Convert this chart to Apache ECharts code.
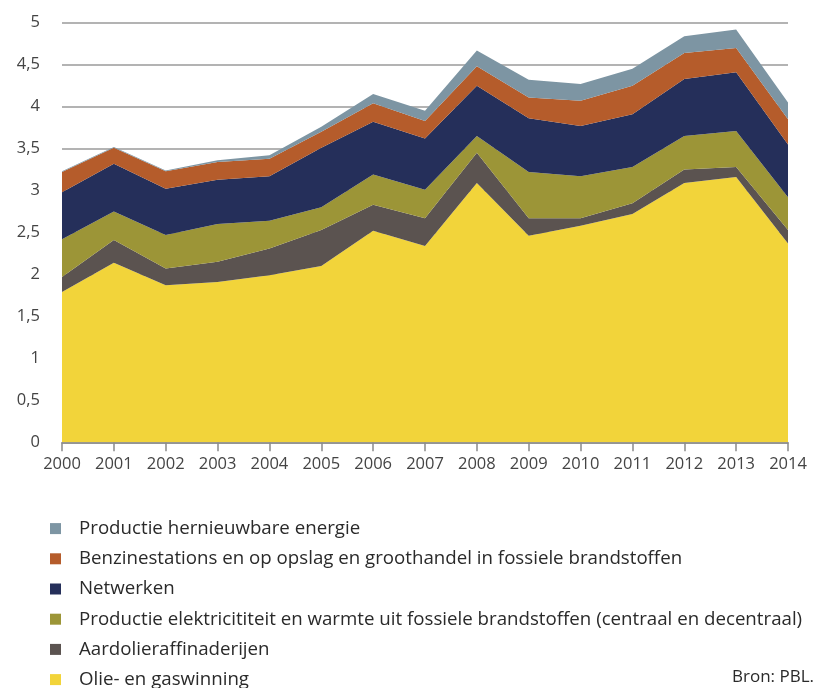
<!DOCTYPE html>
<html><head><meta charset="utf-8">
<script src="https://cdn.jsdelivr.net/npm/echarts@6/dist/echarts.min.js"></script>
<style>html,body{margin:0;padding:0;background:#fff}#c{width:816px;height:688px}</style>
</head><body><div id="c"></div>
<script>
const years = ['2000','2001','2002','2003','2004','2005','2006','2007','2008','2009','2010','2011','2012','2013','2014'];
const olieGas     = [1.79,2.14,1.87,1.91,1.99,2.10,2.52,2.34,3.09,2.46,2.58,2.72,3.09,3.16,2.37];
const raffinage   = [0.18,0.27,0.20,0.24,0.32,0.43,0.31,0.33,0.36,0.21,0.09,0.13,0.16,0.12,0.16];
const elektrisch  = [0.45,0.34,0.40,0.45,0.33,0.27,0.36,0.34,0.20,0.55,0.50,0.43,0.40,0.43,0.39];
const netwerken   = [0.56,0.57,0.55,0.53,0.53,0.71,0.63,0.61,0.60,0.64,0.60,0.63,0.68,0.70,0.63];
const benzine     = [0.24,0.19,0.21,0.21,0.21,0.19,0.22,0.21,0.23,0.25,0.30,0.34,0.31,0.29,0.30];
const hernieuwbaar= [0.01,0.01,0.01,0.02,0.04,0.06,0.11,0.12,0.19,0.21,0.20,0.20,0.20,0.22,0.20];
const yTicks = [0,0.5,1,1.5,2,2.5,3,3.5,4,4.5,5];

const names = ['Olie- en gaswinning','Aardolieraffinaderijen','Productie elektricititeit en warmte uit fossiele brandstoffen (centraal en decentraal)','Netwerken','Benzinestations en op opslag en groothandel in fossiele brandstoffen','Productie hernieuwbare energie'];
const colors = ['#f2d43a','#5b5350','#9c9537','#252f5a','#b55c2b','#7d95a3'];
const datas = [olieGas,raffinage,elektrisch,netwerken,benzine,hernieuwbaar];
const font = 'Open Sans';

const chart = echarts.init(document.getElementById('c'), null, {renderer:'canvas'});
chart.setOption({
  animation:false,
  textStyle:{fontFamily:font},
  grid:{left:62,right:28,top:22.7,bottom:245.7,containLabel:false},
  xAxis:{type:'category',data:years,boundaryGap:false,
    axisLine:{lineStyle:{color:'#8a8a8a',width:1.5}},
    axisTick:{alignWithLabel:true,length:9,lineStyle:{color:'#8a8a8a',width:1.5}},
    axisLabel:{color:'#444',fontSize:16.5,fontFamily:font,margin:13}},
  yAxis:{type:'value',min:yTicks[0],max:yTicks[yTicks.length-1],interval:0.5,
    axisLine:{show:false},axisTick:{show:false},
    splitLine:{lineStyle:{color:'#9a9a9a',width:1.5}},
    axisLabel:{color:'#444',fontSize:16.5,fontFamily:font,margin:22,
      formatter:v=>String(v).replace('.',',')}},
  legend:{orient:'vertical',left:50,top:518.5,height:230,padding:0,itemWidth:11,itemHeight:11,itemGap:10,
    icon:'rect',
    data:names.slice().reverse(),
    textStyle:{color:'#2a2a2a',fontSize:18.7,lineHeight:20.2,fontFamily:font,padding:[0,0,0,13]}},
  graphic:[{type:'text',right:2,top:669,style:{text:'Bron: PBL.',fill:'#2a2a2a',font:'17px "'+font+'"'}}],
  series:datas.map((d,i)=>({
    name:names[i],type:'line',stack:'total',data:d,
    symbol:'none',lineStyle:{width:0},
    areaStyle:{color:colors[i],opacity:1},
    itemStyle:{color:colors[i]},
    z:2
  }))
});
</script></body></html>
